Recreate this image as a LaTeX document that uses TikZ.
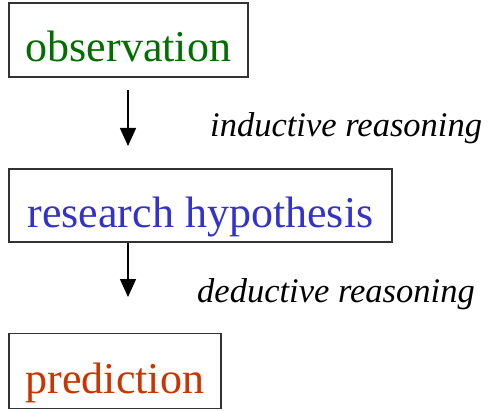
\documentclass[tikz,border=0pt]{standalone}
\usepackage{fontspec}
\setmainfont{Liberation Serif}
\usetikzlibrary{arrows.meta}
\definecolor{obsgreen}{RGB}{0,110,0}
\definecolor{hypblue}{RGB}{51,51,204}
\definecolor{predred}{RGB}{204,51,0}
\definecolor{boxgray}{RGB}{51,51,51}
\tikzset{
  stagebox/.style={draw=boxgray, line width=1.5pt, inner sep=0pt,
    text height=44pt, text depth=0pt,
    font=\fontsize{44}{48}\selectfont},
  flow/.style={line width=1.5pt, -{Triangle[width=16pt,length=18pt]}},
  reason/.style={anchor=base west, inner sep=0pt,
    font=\fontsize{34.5}{38}\selectfont\itshape}
}
\begin{document}
\begin{tikzpicture}[x=1pt,y=-1pt]
\useasboundingbox (0,0) rectangle (494,411);
\node[stagebox, text=obsgreen, minimum width=239pt, minimum height=74pt] (obs) at (128.5,40) {observation};
\node[stagebox, text=hypblue, minimum width=383pt, minimum height=73pt] (hyp) at (200.5,205.5) {research hypothesis};
\node[stagebox, text=predred, minimum width=212pt, minimum height=75pt] (pred) at (115,371) {prediction};
\coordinate (a1s) at (128,90);
\coordinate (a1e) at (128,146);
\coordinate (a2e) at (128,297);
\draw[flow] (a1s) -- (a1e);
\draw[flow] (hyp.south -| a2e) -- (a2e);
\node[reason] (ind) at (210,137) {inductive reasoning};
\node[reason] (ded) at (197,302) {deductive reasoning};
\end{tikzpicture}
\end{document}
